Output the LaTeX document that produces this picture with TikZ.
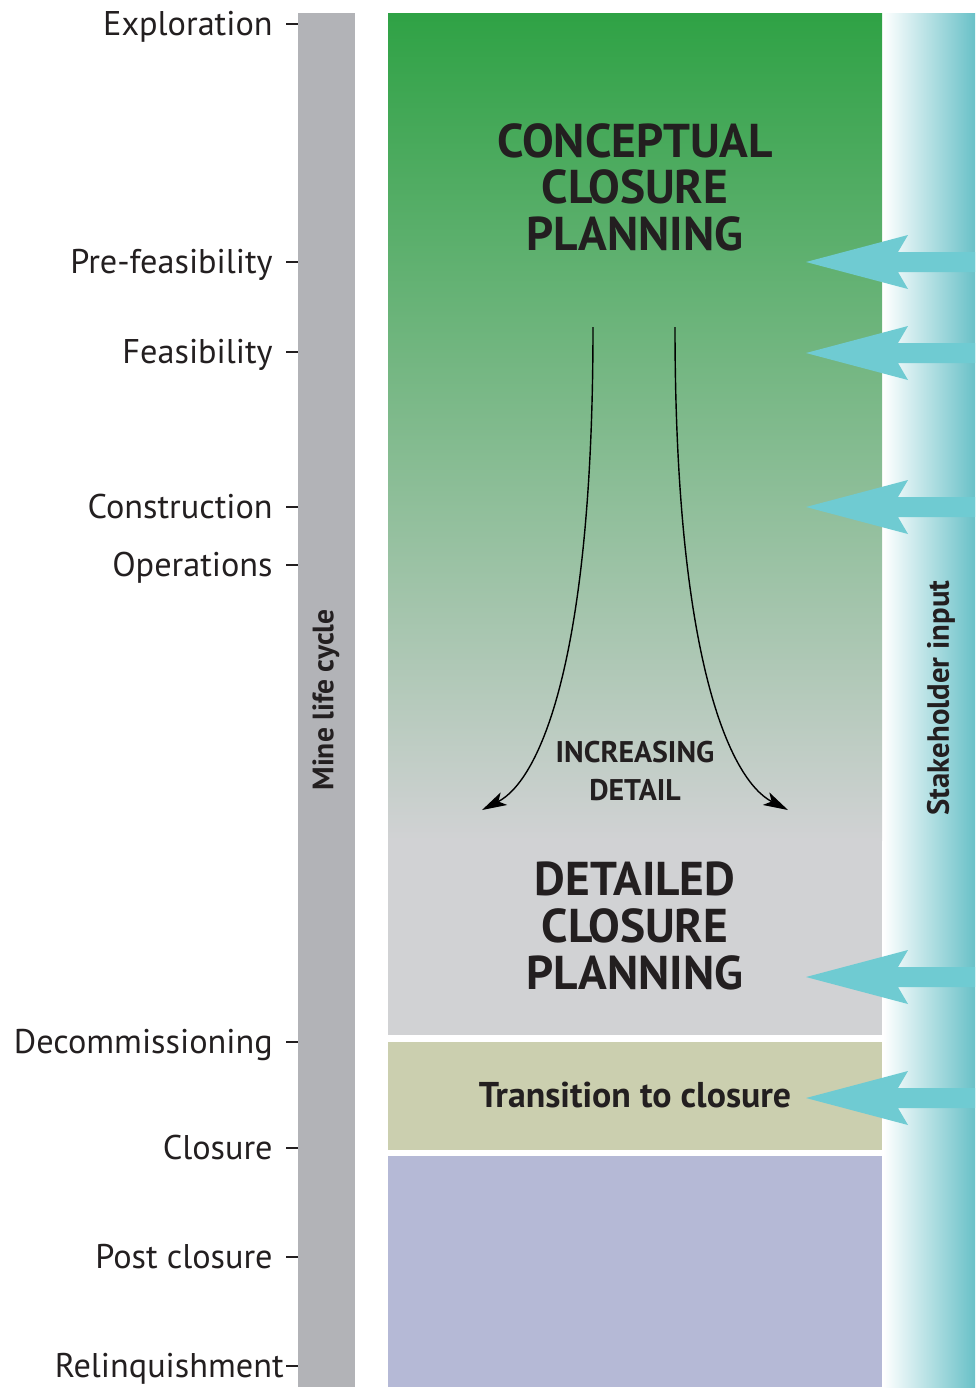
\documentclass[tikz,border=0pt]{standalone}
\usepackage{fontspec}
\setmainfont{PT Sans}
\usetikzlibrary{arrows.meta}

\definecolor{lifegray}{RGB}{178,179,183}
\definecolor{topgreen}{RGB}{47,162,69}
\definecolor{detailgray}{RGB}{209,210,212}
\definecolor{khaki}{RGB}{203,207,175}
\definecolor{lavender}{RGB}{181,185,214}
\definecolor{inputteal}{RGB}{111,203,210}
\definecolor{textgray}{RGB}{35,31,32}

\tikzset{
  lifelabel/.style={anchor=east,inner sep=0pt,text height=13.5pt,text depth=0pt,
    text=textgray,font=\fontsize{19.5}{22}\selectfont},
  phasetitle/.style={align=center,inner sep=0pt,text=textgray,
    font=\bfseries\fontsize{27}{26.5}\selectfont},
  smalltitle/.style={align=center,inner sep=0pt,text=textgray,
    font=\bfseries\fontsize{17}{21.5}\selectfont},
  sidetext/.style={rotate=90,inner sep=0pt,text=textgray,
    font=\bfseries\fontsize{16.8}{18}\selectfont},
  detailarrow/.style={line width=0.8pt,-{Stealth[length=14pt,width=8pt,inset=3.5pt]}}
}

\begin{document}
\begin{tikzpicture}[x=0.02cm,y=-0.02cm]
  \useasboundingbox (0,0) rectangle (980,1390);

  % life cycle bar
  \fill[lifegray] (298,13) rectangle (355,1387);
  \node[sidetext] (cycle) at (326,700) {Mine life cycle};
  \foreach \ytick/\xend/\stage/\name in {24/273/Exploration/expl, 262/273/Pre-feasibility/prefeas,
      352/273/Feasibility/feas, 507/273/Construction/constr, 565/273/Operations/oper,
      1042/273/Decommissioning/decom, 1148/273/Closure/clos, 1257/273/Post closure/post,
      1366/284/Relinquishment/relinq} {
    \node[lifelabel] (\name) at (\xend,\ytick) {\stage};
    \draw[textgray,line width=0.9pt] (286,\ytick) -- (298,\ytick);
  }

  % planning boxes
  \fill[detailgray] (388,13) rectangle (882,1035);
  \shade[top color=topgreen,bottom color=detailgray] (388,13) rectangle (882,840);
  \fill[khaki] (388,1042) rectangle (882,1150);
  \fill[lavender] (388,1156) rectangle (882,1387);

  % stakeholder strip
  \shade[left color=white,right color=inputteal!95!black] (883,13) rectangle (975,1387);
  \node[sidetext,font=\bfseries\fontsize{17.5}{18}\selectfont] (stake) at (941,698) {Stakeholder input};
  \foreach \ya in {262,353,507,977,1098}
    \fill[inputteal] (806,\ya) -- (908,\ya-27) -- (898,\ya-10) -- (975,\ya-10)
      -- (975,\ya+10) -- (898,\ya+10) -- (908,\ya+27) -- cycle;

  \node[phasetitle] (concept) at (635,187) {CONCEPTUAL\\CLOSURE\\PLANNING};
  \node[phasetitle] (detailed) at (635,926) {DETAILED\\CLOSURE\\PLANNING};
  \node[smalltitle] (incr) at (635,771) {INCREASING\\DETAIL};
  \node[smalltitle,font=\bfseries\fontsize{20.4}{24}\selectfont] (trans) at (635,1095) {Transition to closure};

  % increasing detail
  \coordinate (lstart) at (593,327);
  \coordinate (rstart) at (675,327);
  \coordinate (lend) at (482,810);
  \coordinate (rend) at (788,810);
  \draw[detailarrow] (lstart) .. controls (593,660) and (540,780) .. (lend);
  \draw[detailarrow] (rstart) .. controls (675,660) and (730,780) .. (rend);
\end{tikzpicture}
\end{document}
